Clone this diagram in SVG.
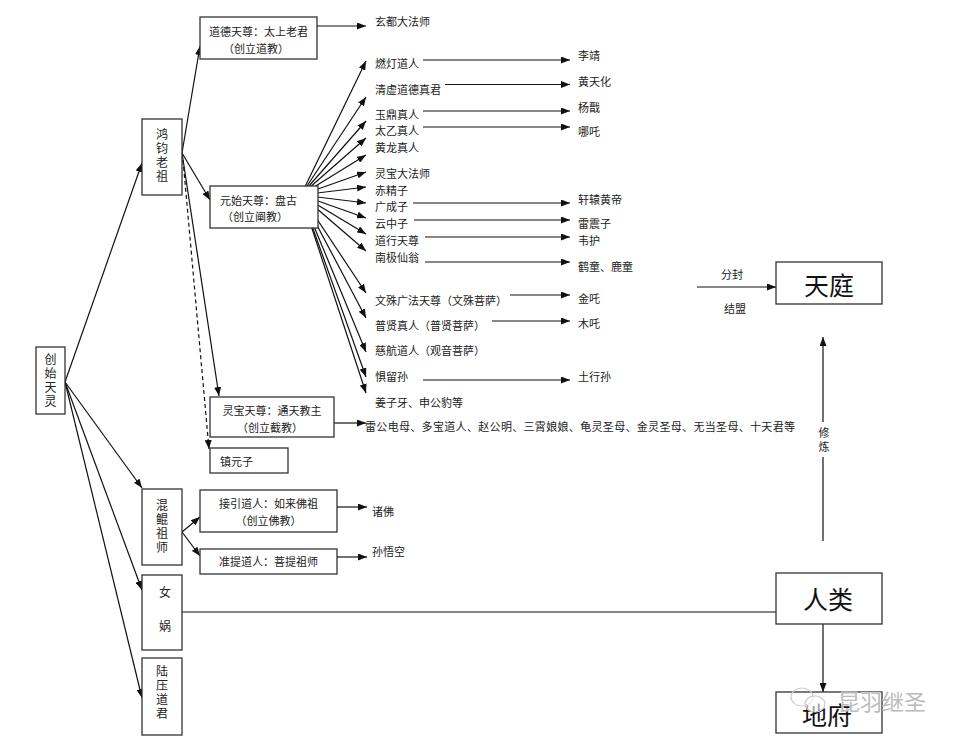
<svg xmlns="http://www.w3.org/2000/svg" width="962" height="743" viewBox="0 0 962 743">
<style>
text{font-family:"Noto Sans CJK SC","Noto Sans CJK TC",sans-serif;fill:#222;dominant-baseline:central}
.t{font-size:11px}
.c{text-anchor:middle}
.v{font-size:12px;text-anchor:middle}
.vt{font-size:12px;writing-mode:tb;glyph-orientation-vertical:0;letter-spacing:2px}
.big{font-size:25px;text-anchor:middle;fill:#111}
.box{fill:#fff;stroke:#333;stroke-width:1.3}
.ln{stroke:#111;stroke-width:1.2;fill:none}
.ar{marker-end:url(#ah)}
.dash{stroke-dasharray:4 3}
.wm{font-size:22px;fill:#bbb;stroke:#fff;stroke-width:0.6;paint-order:stroke}
</style>
<defs>
<marker id="ah" markerUnits="userSpaceOnUse" markerWidth="9" markerHeight="7" refX="9" refY="3.5" orient="auto">
<path d="M0,0 L9,3.5 L0,7 z" fill="#111"/>
</marker>
</defs>
<rect width="962" height="743" fill="#fff"/>

<g id="connectors">
<line class="ln ar" x1="65" y1="382" x2="142" y2="163"/>
<line class="ln ar" x1="65" y1="382" x2="142" y2="488"/>
<line class="ln ar" x1="65" y1="382" x2="142" y2="590"/>
<line class="ln ar" x1="65" y1="382" x2="142" y2="698"/>
<line class="ln ar" x1="182" y1="153" x2="200" y2="46"/>
<line class="ln ar" x1="182" y1="153" x2="210" y2="200"/>
<line class="ln ar" x1="182" y1="153" x2="219" y2="396"/>
<line class="ln ar dash" x1="183" y1="160" x2="209" y2="449"/>
<line class="ln ar" x1="317" y1="26" x2="366" y2="26"/>
<line class="ln ar" x1="301" y1="195" x2="366" y2="61"/>
<line class="ln ar" x1="301" y1="195" x2="366" y2="97"/>
<line class="ln ar" x1="301" y1="195" x2="366" y2="121"/>
<line class="ln ar" x1="301" y1="195" x2="366" y2="138"/>
<line class="ln ar" x1="301" y1="195" x2="366" y2="155"/>
<line class="ln ar" x1="301" y1="195" x2="366" y2="172"/>
<line class="ln ar" x1="301" y1="195" x2="366" y2="187"/>
<line class="ln ar" x1="301" y1="195" x2="366" y2="203"/>
<line class="ln ar" x1="301" y1="195" x2="366" y2="218"/>
<line class="ln ar" x1="301" y1="195" x2="366" y2="234"/>
<line class="ln ar" x1="301" y1="195" x2="366" y2="251"/>
<line class="ln ar" x1="301" y1="195" x2="366" y2="293"/>
<line class="ln ar" x1="301" y1="195" x2="366" y2="318"/>
<line class="ln ar" x1="301" y1="195" x2="366" y2="352"/>
<line class="ln ar" x1="301" y1="195" x2="366" y2="377"/>
<line class="ln ar" x1="301" y1="195" x2="366" y2="393"/>
<circle cx="301" cy="195" r="2" fill="#111"/>
<line class="ln ar" x1="423" y1="60" x2="570" y2="60"/>
<line class="ln ar" x1="445" y1="84.5" x2="570" y2="84.5"/>
<line class="ln ar" x1="423" y1="111" x2="570" y2="111"/>
<line class="ln ar" x1="423" y1="127" x2="570" y2="127"/>
<line class="ln ar" x1="413" y1="203" x2="570" y2="203"/>
<line class="ln ar" x1="414" y1="220" x2="570" y2="220"/>
<line class="ln ar" x1="425" y1="237" x2="570" y2="237"/>
<line class="ln ar" x1="425" y1="262" x2="570" y2="262"/>
<line class="ln ar" x1="510" y1="295" x2="570" y2="295"/>
<line class="ln ar" x1="492" y1="321" x2="570" y2="321"/>
<line class="ln ar" x1="423" y1="380" x2="570" y2="380"/>
<line class="ln ar" x1="334" y1="423" x2="366" y2="423"/>
<line class="ln ar" x1="182" y1="532" x2="200" y2="517"/>
<line class="ln ar" x1="182" y1="532" x2="200" y2="556"/>
<line class="ln ar" x1="337" y1="507" x2="367" y2="507"/>
<line class="ln ar" x1="337" y1="557" x2="367" y2="557"/>
<line class="ln" x1="182" y1="612" x2="776" y2="612"/>
<line class="ln ar" x1="823" y1="624" x2="823" y2="692"/>
<line class="ln" x1="823" y1="541" x2="823" y2="457"/>
<line class="ln ar" x1="823" y1="422" x2="823" y2="337"/>
<line class="ln ar" x1="697" y1="287" x2="776" y2="287"/>
</g>

<g id="n-chuangshi">
<rect class="box" x="36" y="347" width="29" height="67"/>
<text class="vt" x="50.5" y="353">创始天灵</text>
</g>

<g id="n-hongjun">
<rect class="box" x="142" y="119" width="40" height="76"/>
<text class="vt" x="162" y="128">鸿钧老祖</text>
</g>

<g id="n-daode">
<rect class="box" x="200" y="17" width="117" height="42"/>
<text class="t c" x="258.5" y="31">道德天尊：太上老君</text>
<text class="t c" x="256" y="48">（创立道教）</text>
</g>
<g id="n-xuandu"><text class="t" x="375" y="21">玄都大法师</text></g>

<g id="n-yuanshi">
<rect class="box" x="210" y="186" width="108" height="42"/>
<text class="t" x="220" y="200">元始天尊：盘古</text>
<text class="t" x="222" y="216">（创立阐教）</text>
</g>

<g id="n-disciples">
<text class="t" x="375" y="63">燃灯道人</text>
<text class="t" x="375" y="89">清虚道德真君</text>
<text class="t" x="375" y="114">玉鼎真人</text>
<text class="t" x="375" y="130">太乙真人</text>
<text class="t" x="375" y="147">黄龙真人</text>
<text class="t" x="375" y="173">灵宝大法师</text>
<text class="t" x="375" y="190">赤精子</text>
<text class="t" x="375" y="206">广成子</text>
<text class="t" x="375" y="223">云中子</text>
<text class="t" x="375" y="240">道行天尊</text>
<text class="t" x="375" y="257">南极仙翁</text>
<text class="t" x="375" y="300">文殊广法天尊（文殊菩萨）</text>
<text class="t" x="375" y="325">普贤真人（普贤菩萨）</text>
<text class="t" x="375" y="350">慈航道人（观音菩萨）</text>
<text class="t" x="375" y="376">惧留孙</text>
<text class="t" x="375" y="402">姜子牙、申公豹等</text>
</g>

<g id="n-third">
<text class="t" x="578" y="55">李靖</text>
<text class="t" x="578" y="81">黄天化</text>
<text class="t" x="578" y="107">杨戬</text>
<text class="t" x="578" y="131">哪吒</text>
<text class="t" x="578" y="199">轩辕黄帝</text>
<text class="t" x="578" y="223">雷震子</text>
<text class="t" x="578" y="240">韦护</text>
<text class="t" x="578" y="266">鹤童、鹿童</text>
<text class="t" x="578" y="298">金吒</text>
<text class="t" x="578" y="323">木吒</text>
<text class="t" x="578" y="376">土行孙</text>
</g>

<g id="n-lingbao">
<rect class="box" x="210" y="397" width="124" height="40"/>
<text class="t c" x="272" y="410">灵宝天尊：通天教主</text>
<text class="t c" x="270" y="427">（创立截教）</text>
</g>
<g id="n-jiejiao"><text class="t" x="365" y="426" textLength="430" lengthAdjust="spacing">雷公电母、多宝道人、赵公明、三霄娘娘、龟灵圣母、金灵圣母、无当圣母、十天君等</text></g>

<g id="n-zhenyuan">
<rect class="box" x="210" y="448" width="78" height="25"/>
<text class="t" x="220" y="461">镇元子</text>
</g>

<g id="n-hunkun">
<rect class="box" x="142" y="489" width="40" height="76"/>
<text class="vt" x="162" y="499">混鲲祖师</text>
</g>

<g id="n-jieyin">
<rect class="box" x="200" y="490" width="137" height="42"/>
<text class="t c" x="268.5" y="503">接引道人：如来佛祖</text>
<text class="t c" x="268.5" y="520">（创立佛教）</text>
</g>
<g id="n-zhufo"><text class="t" x="372" y="511">诸佛</text></g>

<g id="n-zhunti">
<rect class="box" x="200" y="549" width="137" height="25"/>
<text class="t c" x="268.5" y="561">准提道人：菩提祖师</text>
</g>
<g id="n-sunwukong"><text class="t" x="372" y="551">孙悟空</text></g>

<g id="n-nuwa">
<rect class="box" x="142" y="575" width="40" height="75"/>
<text class="v" x="165" y="591">女</text>
<text class="v" x="165" y="625">娲</text>
</g>

<g id="n-luya">
<rect class="box" x="142" y="658" width="40" height="77"/>
<text class="vt" x="162" y="665">陆压道君</text>
</g>

<g id="n-tianting">
<rect class="box" x="776" y="262" width="106" height="42"/>
<text class="big" x="829" y="284">天庭</text>
</g>
<g id="n-labels">
<text class="t c" x="732" y="274">分封</text>
<text class="t c" x="735" y="308">结盟</text>
<text class="vt" style="font-size:11px;letter-spacing:3px" x="824" y="427">修炼</text>
</g>

<g id="n-renlei">
<rect class="box" x="776" y="573" width="106" height="51"/>
<text class="big" x="828" y="598">人类</text>
</g>

<g id="n-difu">
<rect class="box" x="776" y="692" width="106" height="41"/>
<text class="big" x="827" y="714">地府</text>
</g>

<g id="watermark">
<ellipse cx="802" cy="697" rx="11" ry="9" fill="none" stroke="#ccc" stroke-width="1.2"/>
<ellipse cx="815" cy="704" rx="10" ry="8" fill="#fff" stroke="#ccc" stroke-width="1.2" fill-opacity="0.6"/>
<text class="wm" x="838" y="700">昆羽继圣</text>
</g>
</svg>
